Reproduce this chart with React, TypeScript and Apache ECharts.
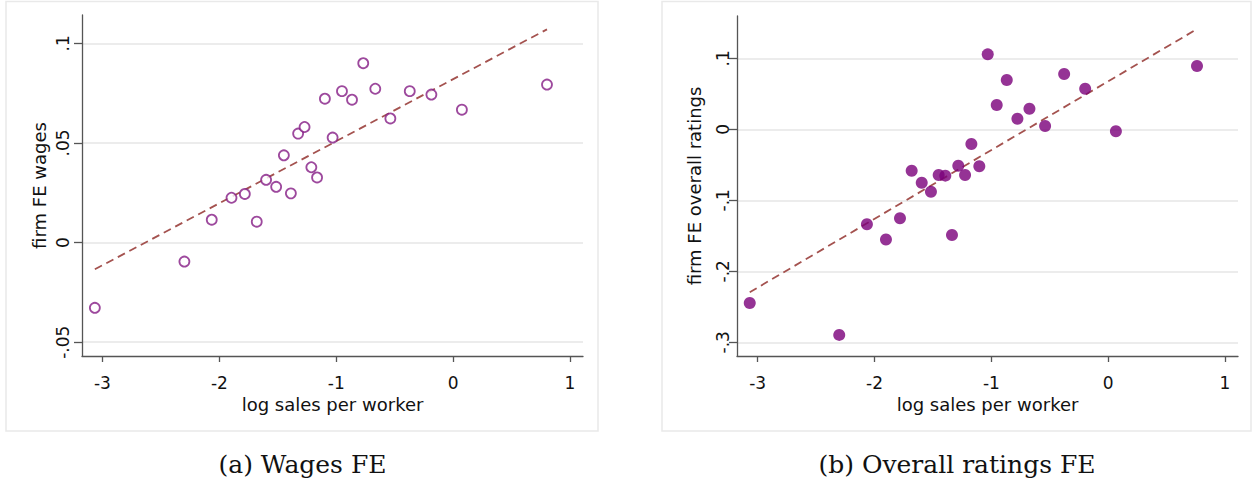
import React, { useEffect, useRef } from "react";
import * as echarts from "echarts";

// Binned scatter: log sales per worker vs. firm fixed effects
const xTicks = [-3, -2, -1, 0, 1];
const wagesTicks = [-0.05, 0, 0.05, 0.1];
const ratingsTicks = [-0.3, -0.2, -0.1, 0, 0.1];

const wagesX = [-3.065, -2.299, -2.065, -1.896, -1.782, -1.68, -1.6, -1.514, -1.448, -1.388, -1.326, -1.271, -1.213, -1.164, -1.097, -1.031, -0.951, -0.865, -0.769, -0.666, -0.537, -0.371, -0.186, 0.075, 0.803];
const wagesY = [-0.0327, -0.0095, 0.0115, 0.0225, 0.0244, 0.0105, 0.0315, 0.028, 0.0438, 0.0247, 0.0547, 0.058, 0.0378, 0.0327, 0.0722, 0.0527, 0.076, 0.0717, 0.09, 0.0772, 0.0623, 0.076, 0.0743, 0.0667, 0.0793];
const wagesFitX = [-3.065, 0.803];
const wagesFitY = [-0.0134, 0.107];

const ratingsX = [-3.068, -2.302, -2.065, -1.902, -1.782, -1.682, -1.596, -1.517, -1.451, -1.394, -1.337, -1.283, -1.225, -1.171, -1.103, -1.031, -0.954, -0.868, -0.777, -0.674, -0.54, -0.377, -0.197, 0.066, 0.76];
const ratingsY = [-0.2446, -0.2896, -0.1338, -0.1552, -0.1253, -0.0583, -0.0752, -0.0879, -0.0643, -0.0653, -0.1488, -0.0513, -0.0643, -0.0207, -0.0521, 0.1056, 0.0342, 0.0694, 0.0149, 0.029, 0.0046, 0.0779, 0.0572, -0.0028, 0.0891];
const ratingsFitX = [-3.068, 0.76];
const ratingsFitY = [-0.2295, 0.1412];

const SANS = '"DejaVu Sans", "Liberation Sans", Arial, sans-serif';
const SERIF = '"DejaVu Serif", "Liberation Serif", serif';
const AXIS = "#555555";
const INK = "#111111";
const PURPLE = "#841c84";
const FIT = "#a4524f";

const pairs = (xs: number[], ys: number[]) => xs.map((x, i) => [x, ys[i]]);
const fmt = (v: number) => String(Number(Number(v).toFixed(4))).replace(/^(-?)0\./, "$1.");

function xAxisFor(gridIndex: number, min: number, max: number) {
  return {
    type: "value",
    gridIndex,
    min,
    max,
    name: "log sales per worker",
    nameLocation: "middle",
    nameGap: 35,
    nameTextStyle: { fontFamily: SANS, fontSize: 18, color: INK },
    axisLine: { show: true, onZero: false, lineStyle: { color: AXIS, width: 1.3 } },
    axisTick: { show: true, customValues: xTicks, length: 6, lineStyle: { color: AXIS, width: 1.3 } },
    axisLabel: { customValues: xTicks, margin: 18, fontFamily: SANS, fontSize: 17, color: INK, formatter: fmt },
    splitLine: { show: false },
  };
}

function yAxisFor(gridIndex: number, min: number, max: number, ticks: number[], name: string, margin: number) {
  return {
    type: "value",
    gridIndex,
    min,
    max,
    name,
    nameLocation: "middle",
    nameGap: 34,
    nameRotate: 90,
    nameTextStyle: { fontFamily: SANS, fontSize: 18, color: INK },
    axisLine: { show: true, onZero: false, lineStyle: { color: AXIS, width: 1.3 } },
    axisTick: { show: true, customValues: ticks, length: 8, lineStyle: { color: AXIS, width: 1.3 } },
    axisLabel: { customValues: ticks, rotate: 90, margin, fontFamily: SANS, fontSize: 17, color: INK, formatter: fmt },
    splitLine: { show: true, lineStyle: { color: "#e6e6e6", width: 1.5 } },
  };
}

export default function App() {
  const ref = useRef<HTMLDivElement>(null);

  useEffect(() => {
    if (!ref.current) return;
    const chart = echarts.init(ref.current, null, { renderer: "svg" });
    chart.setOption({
      animation: false,
      backgroundColor: "#ffffff",
      grid: [
        { left: 82, top: 15, width: 501, height: 341 },
        { left: 737, top: 16, width: 501, height: 340 },
      ],
      xAxis: [xAxisFor(0, -3.175, 1.111), xAxisFor(1, -3.177, 1.111)],
      yAxis: [
        yAxisFor(0, -0.0569, 0.1142, wagesTicks, "firm FE wages", 11),
        yAxisFor(1, -0.3193, 0.1596, ratingsTicks, "firm FE overall ratings", 6),
      ],
      series: [
        {
          type: "scatter",
          xAxisIndex: 0,
          yAxisIndex: 0,
          data: pairs(wagesX, wagesY),
          symbol: "circle",
          symbolSize: 10,
          itemStyle: { color: "#ffffff", borderColor: PURPLE, borderWidth: 1.8 },
          z: 3,
        },
        {
          type: "line",
          xAxisIndex: 0,
          yAxisIndex: 0,
          data: pairs(wagesFitX, wagesFitY),
          symbol: "none",
          lineStyle: { color: FIT, width: 1.8, type: [8, 5] },
          z: 2,
        },
        {
          type: "scatter",
          xAxisIndex: 1,
          yAxisIndex: 1,
          data: pairs(ratingsX, ratingsY),
          symbol: "circle",
          symbolSize: 12,
          itemStyle: { color: "#7a007a" },
          z: 3,
        },
        {
          type: "line",
          xAxisIndex: 1,
          yAxisIndex: 1,
          data: pairs(ratingsFitX, ratingsFitY),
          symbol: "none",
          lineStyle: { color: FIT, width: 1.8, type: [8, 5] },
          z: 2,
        },
      ],
      graphic: [
        {
          type: "rect",
          silent: true,
          z: -1,
          shape: { x: 6, y: 1.5, width: 592, height: 429.5 },
          style: { fill: "none", stroke: "#e9e9e9", lineWidth: 1.5 },
        },
        {
          type: "rect",
          silent: true,
          z: -1,
          shape: { x: 662, y: 1.5, width: 589, height: 429.5 },
          style: { fill: "none", stroke: "#e9e9e9", lineWidth: 1.5 },
        },
        {
          type: "text",
          x: 302.5,
          y: 464,
          style: { text: "(a) Wages FE", fontFamily: SERIF, fontSize: 25, fill: INK, align: "center", verticalAlign: "middle" },
        },
        {
          type: "text",
          x: 957,
          y: 464,
          style: { text: "(b) Overall ratings FE", fontFamily: SERIF, fontSize: 25, fill: INK, align: "center", verticalAlign: "middle" },
        },
      ],
    });
    return () => chart.dispose();
  }, []);

  return <div ref={ref} style={{ position: "fixed", left: 0, top: 0, width: 1252, height: 483 }} />;
}
